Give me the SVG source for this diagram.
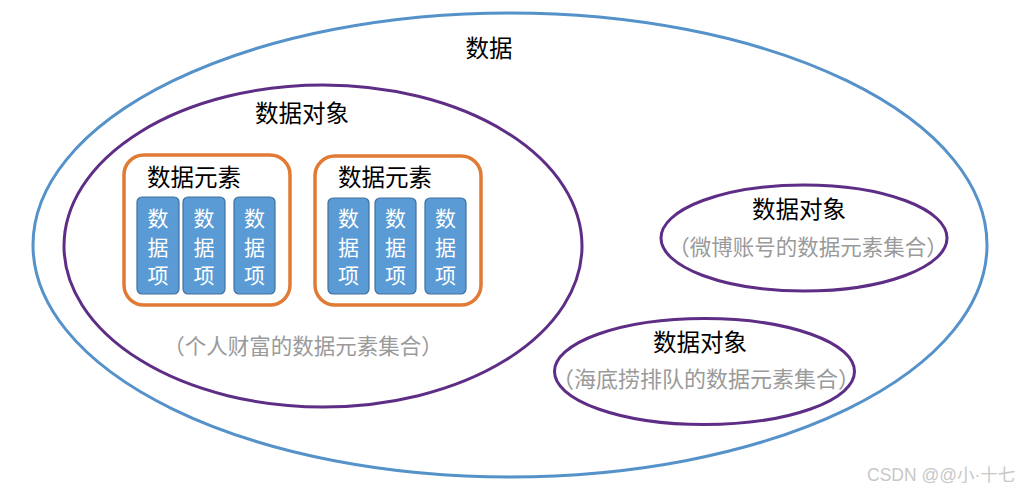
<svg xmlns="http://www.w3.org/2000/svg" width="1023" height="492" viewBox="0 0 1023 492">
<style>
text{font-family:"Noto Sans CJK SC","Liberation Sans",sans-serif;text-anchor:middle}
.t{font-size:23.5px;fill:#000}
.g{font-size:21.5px;fill:#9a9a9a}
.blue{fill:none;stroke:#5592C9;stroke-width:3}
.pur{fill:none;stroke:#5E2D86;stroke-width:3}
.org{fill:none;stroke:#E07A34;stroke-width:3.5}
.item{fill:#5B9BD5;stroke:#41719C;stroke-width:1.2}
.w{font-size:21px;fill:#fff}
.wm{font-size:17.5px;fill:#c8c8c8;text-anchor:start;font-family:"Liberation Sans","Noto Sans CJK SC",sans-serif}
</style>
<rect width="1023" height="492" fill="#fff"/>
<g id="data">
<ellipse class="blue" cx="510" cy="245" rx="477" ry="232"/>
<text class="t" x="489" y="57">数据</text>
</g>
<g id="obj1">
<ellipse class="pur" cx="323" cy="246" rx="259" ry="161"/>
<text class="t" x="302" y="122">数据对象</text>
<text class="g" x="303" y="354">（个人财富的数据元素集合）</text>
</g>
<g id="elem1">
<rect class="org" x="124" y="155" width="166" height="150" rx="20"/>
<text class="t" x="194" y="186">数据元素</text>
</g>
<g id="elem2">
<rect class="org" x="315" y="156" width="166" height="149" rx="20"/>
<text class="t" x="385" y="186">数据元素</text>
</g>
<g id="item1"><rect class="item" x="137" y="197" width="42" height="97" rx="5"/><text class="w" x="158" y="226">数</text><text class="w" x="158" y="255">据</text><text class="w" x="158" y="283">项</text></g>
<g id="item2"><rect class="item" x="183" y="197" width="42" height="97" rx="5"/><text class="w" x="204" y="226">数</text><text class="w" x="204" y="255">据</text><text class="w" x="204" y="283">项</text></g>
<g id="item3"><rect class="item" x="234" y="197" width="41" height="97" rx="5"/><text class="w" x="254.5" y="226">数</text><text class="w" x="254.5" y="255">据</text><text class="w" x="254.5" y="283">项</text></g>
<g id="item4"><rect class="item" x="328" y="198" width="41" height="96" rx="5"/><text class="w" x="348.5" y="226">数</text><text class="w" x="348.5" y="255">据</text><text class="w" x="348.5" y="283">项</text></g>
<g id="item5"><rect class="item" x="375" y="198" width="41" height="96" rx="5"/><text class="w" x="395.5" y="226">数</text><text class="w" x="395.5" y="255">据</text><text class="w" x="395.5" y="283">项</text></g>
<g id="item6"><rect class="item" x="425" y="198" width="41" height="96" rx="5"/><text class="w" x="445.5" y="226">数</text><text class="w" x="445.5" y="255">据</text><text class="w" x="445.5" y="283">项</text></g>
<g id="obj2">
<ellipse class="pur" cx="804" cy="238" rx="143" ry="53"/>
<text class="t" x="799" y="218">数据对象</text>
<text class="g" x="808" y="255">（微博账号的数据元素集合）</text>
</g>
<g id="obj3">
<ellipse class="pur" cx="704.5" cy="371.5" rx="150" ry="53"/>
<text class="t" x="700" y="351">数据对象</text>
<text class="g" x="706" y="387" style="font-size:22px">（海底捞排队的数据元素集合）</text>
</g>
<g id="connectors"></g>
<text class="wm" x="867" y="481">CSDN @@小·十七</text>
</svg>
